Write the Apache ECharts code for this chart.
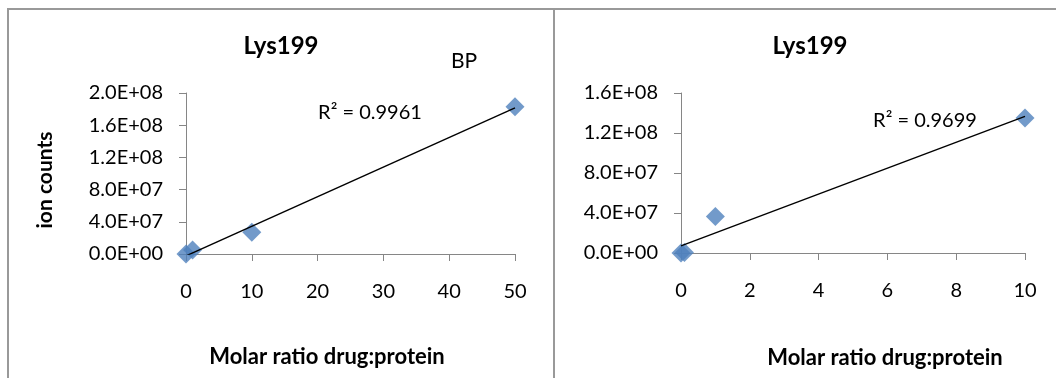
<!DOCTYPE html>
<html>
<head>
<meta charset="utf-8">
<script src="https://cdn.jsdelivr.net/npm/echarts@6/dist/echarts.min.js"></script>
<style>
  html, body { margin: 0; padding: 0; background: #fff; }
  #chart { width: 1056px; height: 378px; }
</style>
</head>
<body>
<div id="chart"></div>
<script>
// data
const bpRatio = [0, 1, 10, 50]
const bpCounts = [0, 5e6, 2.7e7, 1.83e8]
const rightRatio = [0, 0.1, 1, 10]
const rightCounts = [0, 5e5, 3.65e7, 1.35e8]
const titles = ['Lys199', 'Lys199']
const r2Labels = ['R² = 0.9961', 'R² = 0.9699']

const FONT = 'Lato, "Liberation Sans", sans-serif'
const blue = '#4F81BD'
const axisGray = '#868686'

// least squares trend line, drawn at the data extent
function trend(xs, ys) {
  const n = xs.length
  const mx = xs.reduce((a, b) => a + b, 0) / n
  const my = ys.reduce((a, b) => a + b, 0) / n
  let sxy = 0, sxx = 0
  for (let i = 0; i < n; i++) {
    sxy += (xs[i] - mx) * (ys[i] - my)
    sxx += (xs[i] - mx) * (xs[i] - mx)
  }
  const k = sxy / sxx
  const b = my - k * mx
  const x0 = Math.min(...xs), x1 = Math.max(...xs)
  return [[x0, k * x0 + b], [x1, k * x1 + b]]
}

function sci(v) {
  if (v === 0) return '0.0E+00'
  const e = Math.floor(Math.log10(Math.abs(v)) + 1e-9)
  const m = v / Math.pow(10, e)
  return m.toFixed(1) + 'E+' + String(e).padStart(2, '0')
}

const pairs = (xs, ys) => xs.map((x, i) => [x, ys[i]])

const chart = echarts.init(document.getElementById('chart'))

const line = { color: axisGray, width: 1 }
function axis(extra, label) {
  return Object.assign({
    type: 'value',
    axisLine: { show: true, onZero: false, lineStyle: line },
    axisTick: { show: true, length: 7, lineStyle: line },
    splitLine: { show: false },
    axisLabel: Object.assign({ color: '#000', fontFamily: FONT, fontSize: 20 }, label)
  }, extra)
}

function txt(x, y, text, size, bold, rot) {
  return {
    type: 'text', x: x, y: y, rotation: rot || 0,
    style: {
      text: text, fontFamily: FONT, fontSize: size, fontWeight: bold ? 'bold' : 'normal',
      fill: '#000', textAlign: 'center', textVerticalAlign: 'middle'
    }
  }
}

chart.setOption({
  animation: false,
  graphic: [
    { type: 'line', shape: { x1: 7, y1: 9, x2: 1056, y2: 9 }, style: { stroke: '#999', lineWidth: 2 } },
    { type: 'line', shape: { x1: 8, y1: 9, x2: 8, y2: 378 }, style: { stroke: '#999', lineWidth: 2 } },
    { type: 'line', shape: { x1: 554, y1: 9, x2: 554, y2: 378 }, style: { stroke: '#999', lineWidth: 2 } },
    txt(281, 46, titles[0], 24, true),
    txt(810, 46, titles[1], 24, true),
    txt(464, 61, 'BP', 21, false),
    txt(370, 113, r2Labels[0], 20, false),
    txt(925, 121, r2Labels[1], 20, false),
    txt(45, 180, 'ion counts', 21, true, Math.PI / 2),
    txt(327, 357, 'Molar ratio drug:protein', 22, true),
    txt(885, 358, 'Molar ratio drug:protein', 22, true)
  ],
  grid: [
    { left: 186, right: 541, top: 93, bottom: 124 },
    { left: 681, right: 31, top: 93, bottom: 125 }
  ],
  xAxis: [
    axis({ gridIndex: 0, min: 0, max: 50, interval: 10 }, { margin: 28 }),
    axis({ gridIndex: 1, min: 0, max: 10, interval: 2 }, { margin: 28 })
  ],
  yAxis: [
    axis({ gridIndex: 0, min: 0, max: 2e8, interval: 4e7 }, { margin: 23, formatter: sci }),
    axis({ gridIndex: 1, min: 0, max: 1.6e8, interval: 4e7 }, { margin: 23, formatter: sci })
  ],
  series: [
    { type: 'scatter', xAxisIndex: 0, yAxisIndex: 0, symbol: 'diamond', symbolSize: 19,
      itemStyle: { color: blue }, data: pairs(bpRatio, bpCounts) },
    { type: 'line', xAxisIndex: 0, yAxisIndex: 0, symbol: 'none',
      lineStyle: { color: '#000', width: 1.4 }, data: trend(bpRatio, bpCounts), z: 3 },
    { type: 'scatter', xAxisIndex: 1, yAxisIndex: 1, symbol: 'diamond', symbolSize: 19,
      itemStyle: { color: blue }, data: pairs(rightRatio, rightCounts) },
    { type: 'line', xAxisIndex: 1, yAxisIndex: 1, symbol: 'none',
      lineStyle: { color: '#000', width: 1.4 }, data: trend(rightRatio, rightCounts), z: 3 }
  ]
})
</script>
</body>
</html>
